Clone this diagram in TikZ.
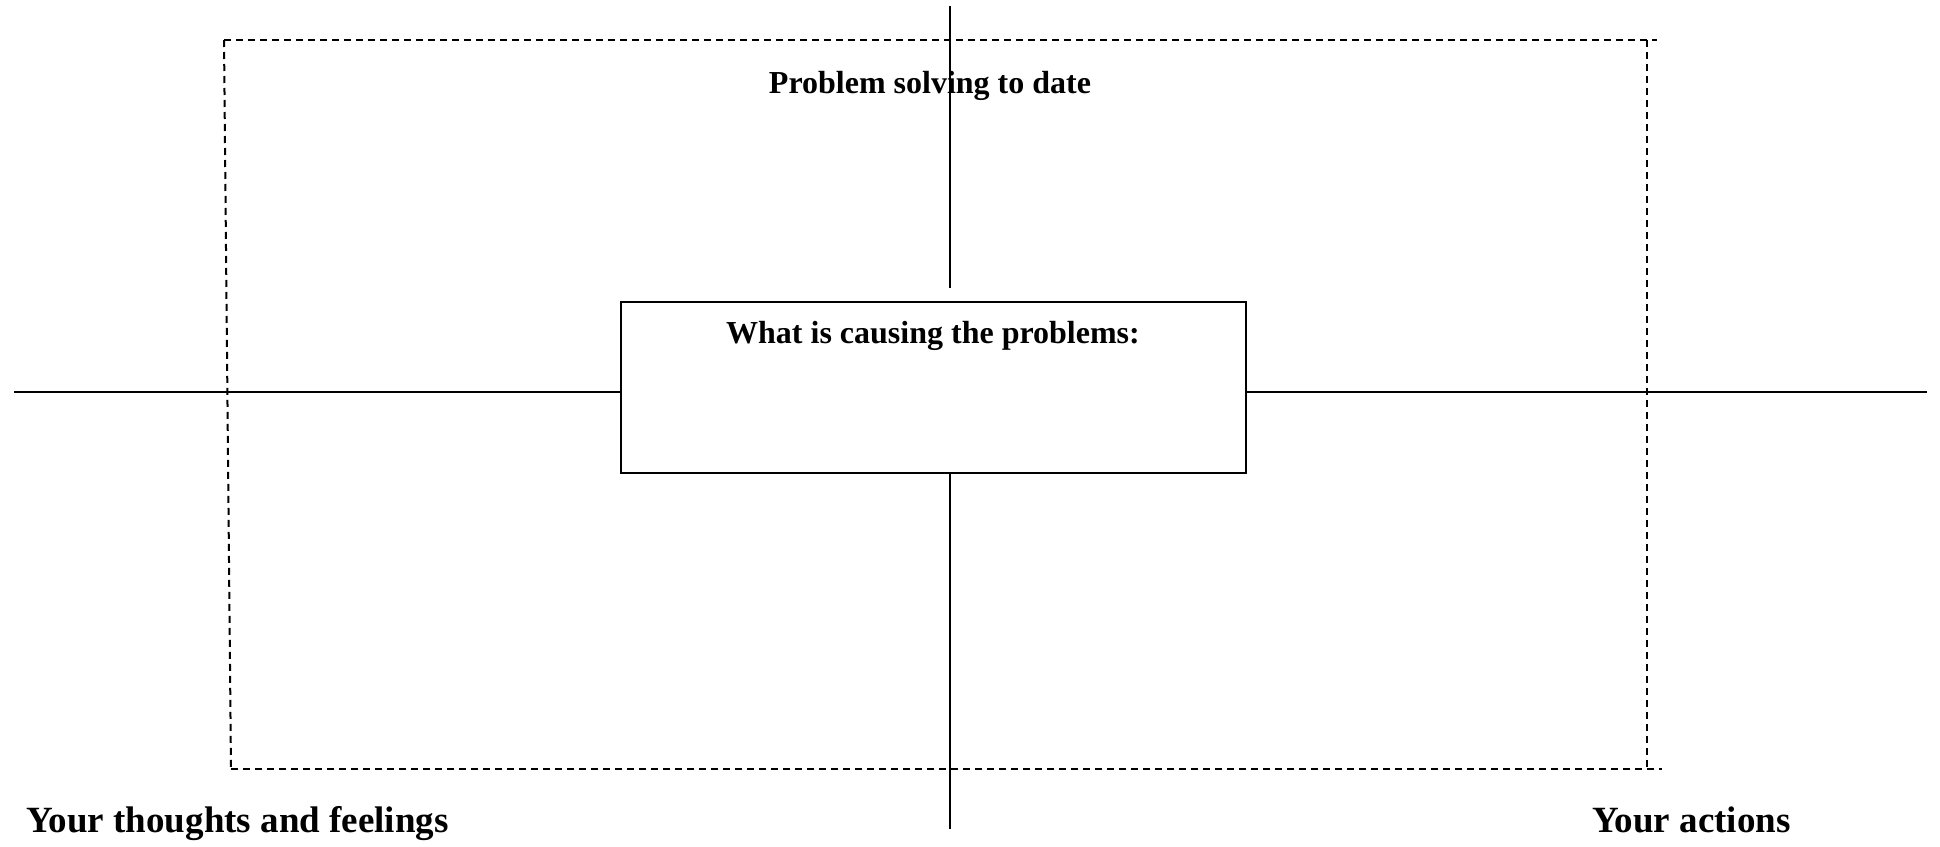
\documentclass[tikz,border=0pt]{standalone}
\usepackage{fontspec}
\setmainfont{Liberation Serif}
\usetikzlibrary{positioning}
\tikzset{
  axis/.style={line width=2pt},
  frame/.style={line width=2pt, dash pattern=on 7pt off 5pt},
  causebox/.style={draw, line width=2pt, minimum width=625pt, minimum height=171pt, inner sep=0pt},
  headtxt/.style={font=\fontsize{32}{38}\selectfont\bfseries, inner sep=0pt, anchor=base},
  cornertxt/.style={font=\fontsize{37}{44}\selectfont\bfseries, inner sep=0pt, anchor=base west}
}
\begin{document}
\begin{tikzpicture}[x=1pt,y=-1pt]
  \useasboundingbox (0,0) rectangle (1940,846);
  % dashed frame, drawn side by side
  \coordinate (ftl) at (224,40);
  \coordinate (ftr) at (1657,40);
  \coordinate (fbl) at (231,769);
  \coordinate (fbr) at (1662,769);
  \coordinate (frt) at (1647,40);
  \coordinate (frb) at (1647,769);
  \draw[frame] (ftl) -- (ftr);
  \draw[frame] (ftl) -- (fbl);
  \draw[frame] (fbl) -- (fbr);
  \draw[frame] (frt) -- (frb);
  % centre box
  \node[causebox] (cause) at (933.5,387) {};
  \node[headtxt] (causetxt) at (933,343) {What is causing the problems:};
  \node[headtxt] (solving) at (930,93) {Problem solving to date};
  % the cross
  \coordinate (up) at (950,6);
  \coordinate (upend) at (950,288);
  \coordinate (down) at (950,829);
  \coordinate (lft) at (14,392);
  \coordinate (rgt) at (1927,392);
  \draw[axis] (up) -- (upend);
  \draw[axis] (cause.south -| up) -- (down);
  \draw[axis] (lft) -- (lft -| cause.west);
  \draw[axis] (rgt -| cause.east) -- (rgt);
  % corners
  \node[cornertxt] (thoughts) at (26,832) {Your thoughts and feelings};
  \node[cornertxt] (actions) at (1592,832) {Your actions};
\end{tikzpicture}
\end{document}
